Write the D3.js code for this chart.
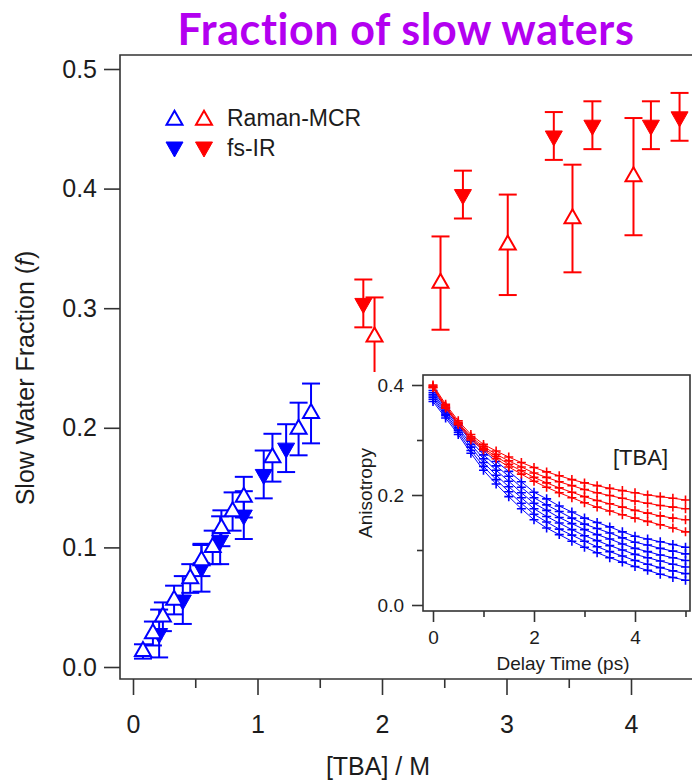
<!DOCTYPE html>
<html>
<head>
<meta charset="utf-8">
<script src="https://cdn.jsdelivr.net/npm/d3@7"></script>
<style>
  body { margin: 0; background: #fff; }
  svg { display: block; font-family: "Liberation Sans", Arial, sans-serif; }
</style>
</head>
<body>
<svg id="chart" width="692" height="780"></svg>
<script>
// Main chart data: [TBA] / M vs slow water fraction
const ramanBlueX = [0.08, 0.16, 0.24, 0.33, 0.46, 0.55, 0.64, 0.71, 0.80, 0.89, 1.12, 1.33, 1.43];
const ramanBlueY = [0.013, 0.028, 0.042, 0.056, 0.074, 0.089, 0.100, 0.116, 0.130, 0.142, 0.175, 0.199, 0.212];
const ramanBlueErr = [0.006, 0.010, 0.012, 0.012, 0.012, 0.013, 0.014, 0.015, 0.016, 0.017, 0.020, 0.022, 0.025];

const irBlueX = [0.21, 0.40, 0.55, 0.70, 0.89, 1.05, 1.23];
const irBlueY = [0.028, 0.056, 0.083, 0.106, 0.127, 0.161, 0.183];
const irBlueErr = [0.020, 0.020, 0.020, 0.020, 0.020, 0.020, 0.020];

const ramanRedX = [1.94, 2.47, 3.01, 3.53, 4.02];
const ramanRedY = [0.276, 0.321, 0.353, 0.375, 0.410];
const ramanRedErr = [0.033, 0.039, 0.042, 0.045, 0.049];

const irRedX = [1.85, 2.65, 3.38, 3.69, 4.16, 4.39];
const irRedY = [0.304, 0.395, 0.444, 0.453, 0.453, 0.460];
const irRedErr = [0.020, 0.020, 0.020, 0.020, 0.020, 0.020];

const xTicks = [0, 1, 2, 3, 4];
const xMinorTicks = [0.5, 1.5, 2.5, 3.5, 4.5];
const yTicks = [0, 0.1, 0.2, 0.3, 0.4, 0.5];

// Inset: anisotropy decays
const delayTimes = [0, 0.25, 0.5, 0.75, 1, 1.25, 1.5, 1.75, 2, 2.25, 2.5, 2.75, 3, 3.25, 3.5, 3.75, 4, 4.25, 4.5, 4.75, 5];
const redDecays = [
  [.400, .365, .335, .310, .292, .280, .269, .259, .250, .242, .235, .228, .222, .217, .212, .208, .204, .200, .197, .194, .191],
  [.398, .362, .332, .306, .288, .274, .262, .251, .240, .232, .224, .217, .210, .204, .199, .194, .189, .185, .181, .178, .175],
  [.396, .360, .330, .303, .285, .270, .256, .244, .232, .222, .213, .205, .197, .190, .184, .178, .172, .167, .162, .158, .155],
  [.395, .358, .328, .300, .282, .266, .251, .238, .225, .214, .204, .195, .186, .178, .171, .164, .158, .152, .146, .140, .133]
];
const blueDecays = [
  [.390, .358, .330, .303, .280, .261, .243, .224, .205, .193, .180, .169, .158, .150, .142, .133, .125, .120, .115, .110, .105],
  [.386, .354, .326, .298, .273, .253, .234, .214, .195, .182, .170, .158, .147, .139, .131, .122, .114, .109, .103, .098, .093],
  [.382, .351, .322, .292, .266, .245, .225, .204, .185, .172, .159, .148, .137, .128, .120, .111, .103, .097, .091, .086, .081],
  [.378, .347, .318, .287, .259, .236, .215, .195, .175, .161, .149, .137, .126, .117, .108, .100, .092, .086, .080, .074, .069],
  [.374, .344, .314, .281, .252, .228, .206, .185, .165, .151, .138, .127, .116, .106, .097, .089, .081, .074, .068, .062, .057],
  [.370, .340, .310, .276, .245, .220, .197, .175, .155, .140, .128, .116, .105, .095, .086, .078, .070, .063, .056, .050, .045]
];
const insetXTicks = [0, 2, 4];
const insetXMinor = [1, 3, 5];
const insetYTicks = [0, 0.2, 0.4];
const insetYMinor = [0.1, 0.3];

const BLUE = "#0000ff";
const RED = "#ff0000";
const INK = "#1c1c1c";

const svg = d3.select("#chart");

// title
svg.append("text")
  .attr("x", 406).attr("y", 45)
  .attr("text-anchor", "middle")
  .style("font-family", "Lato, 'Open Sans', sans-serif")
  .style("font-weight", "bold")
  .style("font-size", "43px")
  .style("letter-spacing", "0.6px")
  .attr("fill", "#b300f0")
  .text("Fraction of slow waters");

const frame = { left: 120, top: 55, bottom: 679, right: 692 };

const x = d3.scaleLinear().domain([0, 4]).range([133, 631]);
const y = d3.scaleLinear().domain([0, 0.5]).range([667, 69]);

// frame
svg.append("path")
  .attr("d", `M${frame.right},${frame.top}H${frame.left}V${frame.bottom}H${frame.right}`)
  .attr("fill", "none")
  .attr("stroke", "#333")
  .attr("stroke-width", 1.6);

const styleAxis = (g, size) => {
  g.select(".domain").remove();
  g.selectAll(".tick line").attr("stroke", "#333").attr("stroke-width", 1.6);
  g.selectAll(".tick text").attr("fill", INK).style("font-size", size + "px");
};

svg.append("g")
  .attr("transform", `translate(${frame.left},0)`)
  .call(d3.axisLeft(y).tickValues(yTicks).tickFormat(d3.format(".1f")).tickSize(16).tickPadding(7))
  .call(g => styleAxis(g, 25));

svg.append("g")
  .attr("transform", `translate(0,${frame.bottom})`)
  .call(d3.axisBottom(x).tickValues(xTicks).tickFormat(d3.format("d")).tickSize(16).tickPadding(20))
  .call(g => styleAxis(g, 25));

svg.append("g")
  .attr("transform", `translate(0,${frame.bottom})`)
  .call(d3.axisBottom(x).tickValues(xMinorTicks).tickFormat("").tickSize(9))
  .call(g => styleAxis(g, 25));

// axis titles
const yTitle = svg.append("text")
  .attr("transform", "translate(34,378) rotate(-90)")
  .attr("text-anchor", "middle")
  .attr("fill", INK)
  .style("font-size", "25px");
yTitle.append("tspan").text("Slow Water Fraction (");
yTitle.append("tspan").style("font-style", "italic").text("f");
yTitle.append("tspan").text(")");

svg.append("text")
  .attr("x", 378).attr("y", 775)
  .attr("text-anchor", "middle")
  .attr("fill", INK)
  .style("font-size", "25px")
  .text("[TBA] / M");

// markers
const triPath = (up, w, h) => up
  ? `M0,${-2 * h / 3}L${w / 2},${h / 3}L${-w / 2},${h / 3}Z`
  : `M0,${2 * h / 3}L${w / 2},${-h / 3}L${-w / 2},${-h / 3}Z`;

const zip = (xs, ys, es) => xs.map((v, i) => ({ x: v, y: ys[i], e: es[i] }));

const drawSeries = (pts, color, up) => {
  const g = svg.append("g");
  const eb = g.selectAll(".eb").data(pts).join("g")
    .attr("stroke", color).attr("stroke-width", 2).attr("fill", "none");
  eb.append("line")
    .attr("x1", d => x(d.x)).attr("x2", d => x(d.x))
    .attr("y1", d => y(d.y + d.e)).attr("y2", d => y(d.y - d.e));
  eb.append("line")
    .attr("x1", d => x(d.x) - 9).attr("x2", d => x(d.x) + 9)
    .attr("y1", d => y(d.y + d.e)).attr("y2", d => y(d.y + d.e));
  eb.append("line")
    .attr("x1", d => x(d.x) - 9).attr("x2", d => x(d.x) + 9)
    .attr("y1", d => y(d.y - d.e)).attr("y2", d => y(d.y - d.e));
  g.selectAll(".mk").data(pts).join("path")
    .attr("transform", d => `translate(${x(d.x)},${y(d.y)})`)
    .attr("d", triPath(up, up ? 16 : 17, up ? 14 : 15))
    .attr("fill", up ? "#fff" : color)
    .attr("stroke", color)
    .attr("stroke-width", up ? 2 : 1);
};

drawSeries(zip(irBlueX, irBlueY, irBlueErr), BLUE, false);
drawSeries(zip(ramanBlueX, ramanBlueY, ramanBlueErr), BLUE, true);
drawSeries(zip(ramanRedX, ramanRedY, ramanRedErr), RED, true);
drawSeries(zip(irRedX, irRedY, irRedErr), RED, false);

// legend
const legend = svg.append("g");
[[174.5, BLUE], [204, RED]].forEach(([lx, c]) => {
  legend.append("path").attr("transform", `translate(${lx},120)`)
    .attr("d", triPath(true, 16, 14)).attr("fill", "#fff").attr("stroke", c).attr("stroke-width", 2);
  legend.append("path").attr("transform", `translate(${lx},147)`)
    .attr("d", triPath(false, 17, 15)).attr("fill", c).attr("stroke", c).attr("stroke-width", 1);
});
legend.append("text").attr("x", 227).attr("y", 126).attr("fill", INK).style("font-size", "23px").text("Raman-MCR");
legend.append("text").attr("x", 227).attr("y", 156).attr("fill", INK).style("font-size", "23px").text("fs-IR");

// inset
const inset = { left: 423, right: 690, top: 375, bottom: 611 };
svg.append("rect")
  .attr("x", 352).attr("y", 372)
  .attr("width", 692 - 352).attr("height", 676 - 372)
  .attr("fill", "#fff");

const xi = d3.scaleLinear().domain([0, 5]).range([433, 685.5]);
const yi = d3.scaleLinear().domain([0, 0.4]).range([605, 385]);

const ig = svg.append("g");
const line = d3.line().x((d, i) => xi(delayTimes[i])).y(d => yi(d));

const drawDecays = (set, color) => {
  set.forEach(vals => {
    ig.append("path").datum(vals)
      .attr("d", line).attr("fill", "none")
      .attr("stroke", color).attr("stroke-width", 1);
    ig.append("g").selectAll("path").data(vals).join("path")
      .attr("transform", (d, i) => `translate(${xi(delayTimes[i])},${yi(d)})`)
      .attr("d", "M-4.5,0H4.5M0,-4.5V4.5")
      .attr("stroke", color).attr("stroke-width", 1.6);
  });
};
drawDecays(blueDecays, BLUE);
drawDecays(redDecays, RED);

ig.append("rect")
  .attr("x", inset.left).attr("y", inset.top)
  .attr("width", inset.right - inset.left).attr("height", inset.bottom - inset.top)
  .attr("fill", "none").attr("stroke", "#333").attr("stroke-width", 1.6);

ig.append("g")
  .attr("transform", `translate(${inset.left},0)`)
  .call(d3.axisLeft(yi).tickValues(insetYTicks).tickFormat(d3.format(".1f")).tickSize(11).tickPadding(8))
  .call(g => styleAxis(g, 19));
ig.append("g")
  .attr("transform", `translate(${inset.left},0)`)
  .call(d3.axisLeft(yi).tickValues(insetYMinor).tickFormat("").tickSize(6))
  .call(g => styleAxis(g, 19));
ig.append("g")
  .attr("transform", `translate(0,${inset.bottom})`)
  .call(d3.axisBottom(xi).tickValues(insetXTicks).tickFormat(d3.format("d")).tickSize(11).tickPadding(9))
  .call(g => styleAxis(g, 19));
ig.append("g")
  .attr("transform", `translate(0,${inset.bottom})`)
  .call(d3.axisBottom(xi).tickValues(insetXMinor).tickFormat("").tickSize(6))
  .call(g => styleAxis(g, 19));

ig.append("text")
  .attr("transform", "translate(372,493) rotate(-90)")
  .attr("text-anchor", "middle").attr("fill", INK)
  .style("font-size", "19px").text("Anisotropy");
ig.append("text")
  .attr("x", 563).attr("y", 670)
  .attr("text-anchor", "middle").attr("fill", INK)
  .style("font-size", "19px").text("Delay Time (ps)");
ig.append("text")
  .attr("x", 613).attr("y", 465)
  .attr("fill", INK)
  .style("font-size", "22px").text("[TBA]");
</script>
</body>
</html>
